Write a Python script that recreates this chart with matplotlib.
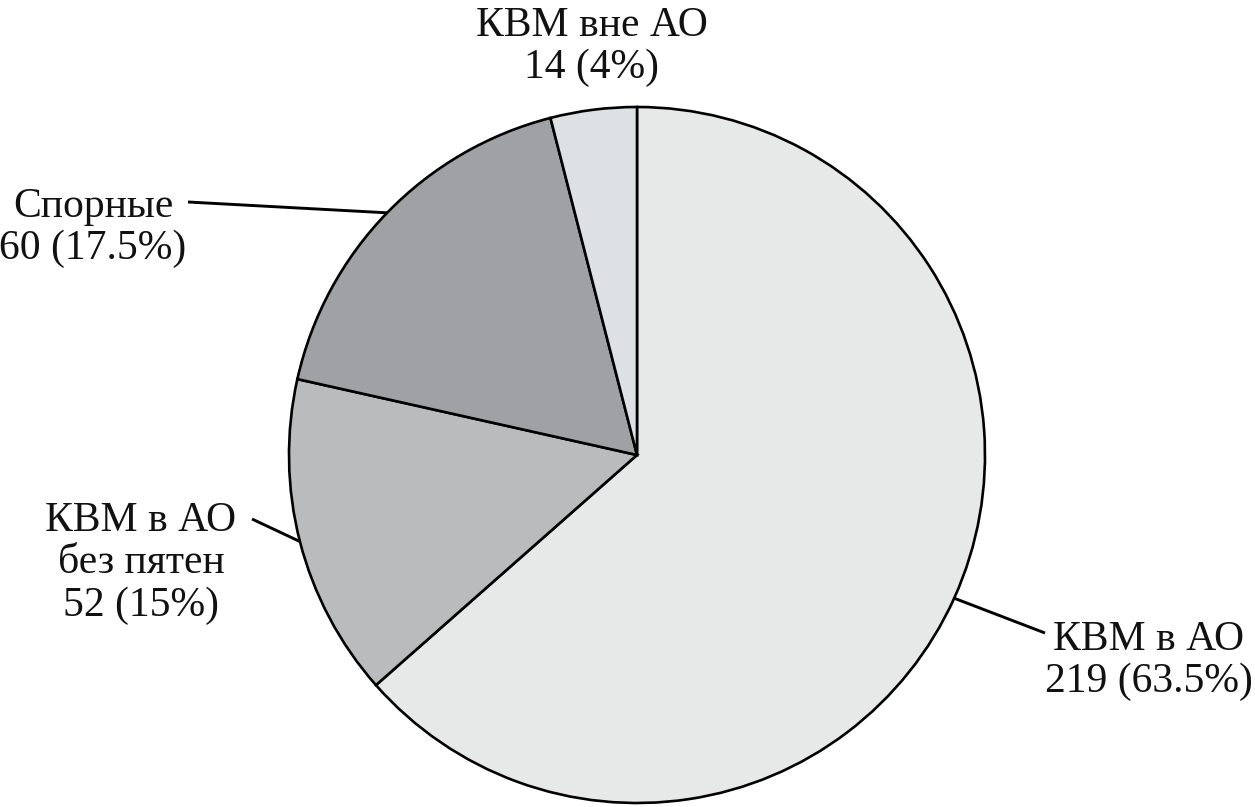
import numpy as np
import matplotlib.pyplot as plt

plt.rcParams['font.family'] = ['Liberation Serif', 'DejaVu Serif']

# data
labels = ["КВМ в АО", "КВМ в АО\nбез пятен", "Спорные", "КВМ вне АО"]
counts = [219, 52, 60, 14]
percents = [63.5, 15, 17.5, 4]
colors = ["#e7e8e8", "#b9bbbd", "#9fa1a5", "#dde1e4"]

W, H = 1255, 807
fig = plt.figure(figsize=(W / 100, H / 100), dpi=100)
ax = fig.add_axes([0, 0, 1, 1])


def px(x, y):
    # pixel coords (origin top-left) -> data coords
    return x, H - y


cx, cy = px(637, 455)
r = 348
wedges, _ = ax.pie(percents, colors=colors, startangle=90, counterclock=False,
                   center=(cx, cy), radius=r,
                   wedgeprops=dict(edgecolor="black", linewidth=1.9))
ax.set_xlim(0, W)
ax.set_ylim(0, H)
ax.set_aspect("equal")
ax.axis("off")

# label positions (text block centre) and leader line ends, in pixels
text_pos = [(1149, 661), (141, 563), (93, 228), (592, 47)]
line_end = [(1045, 633), (252, 519), (188, 202), None]

for w, lab, n, p, tp, le in zip(wedges, labels, counts, percents, text_pos, line_end):
    tx, ty = px(*tp)
    ax.text(tx, ty, f"{lab}\n{n} ({p:g}%)", ha="center", va="center",
            fontsize=30, linespacing=1.13, color="#111111")
    if le is not None:
        mid = np.deg2rad((w.theta1 + w.theta2) / 2)
        ex, ey = cx + r * np.cos(mid), cy + r * np.sin(mid)
        lx, ly = px(*le)
        ax.plot([lx, ex], [ly, ey], color="black", lw=2.1, solid_capstyle="butt")

plt.savefig("out.png", dpi=100)
